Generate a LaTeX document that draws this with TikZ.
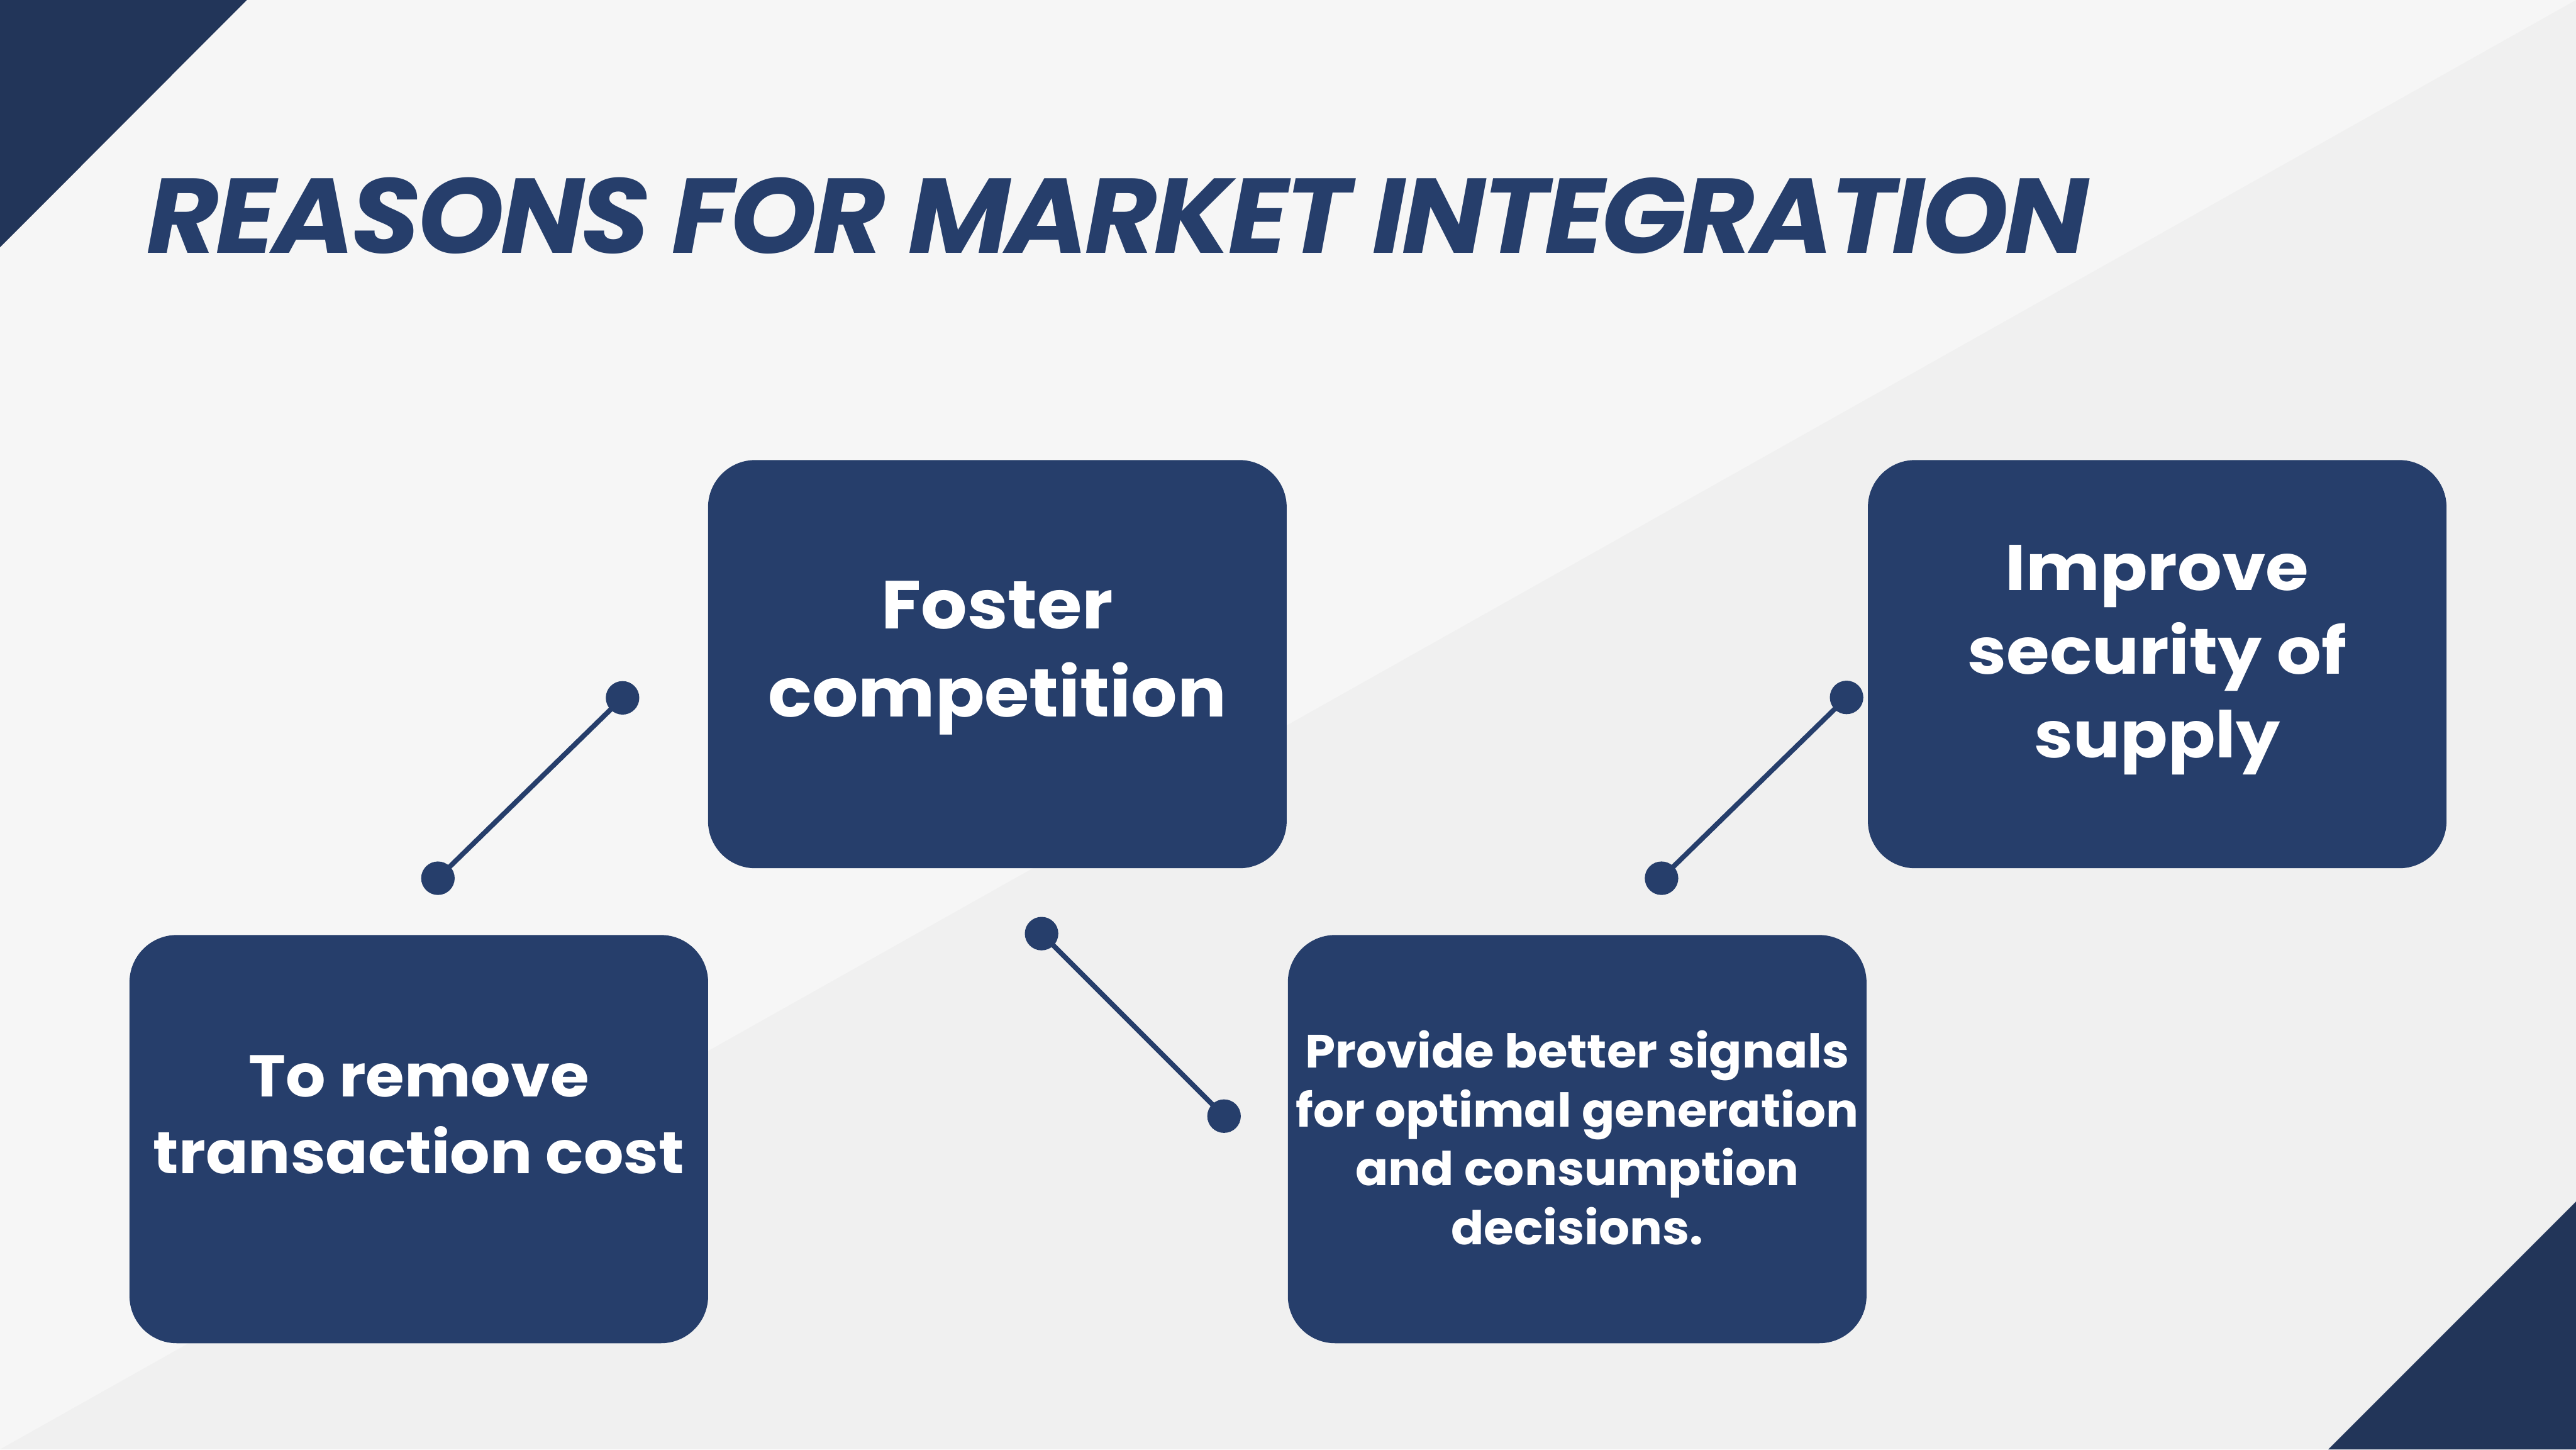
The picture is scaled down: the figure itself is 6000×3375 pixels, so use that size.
\documentclass[tikz,border=0pt]{standalone}
\usepackage{fontspec}
\usepackage{graphicx}
\setmainfont{Poppins}
\newfontfamily\titlefont{Poppins}[LetterSpace=-3]
\usetikzlibrary{calc}
\definecolor{navy}{HTML}{263E6B}
\definecolor{navydark}{HTML}{223559}
\definecolor{bglight}{HTML}{F6F6F6}
\definecolor{bgdark}{HTML}{F0F0F0}
\newcommand\cardlines[4]{\scalebox{#4}[1]{\fontsize{#1}{#2}\selectfont\begin{tabular}[t]{@{}c@{}}#3\end{tabular}}}
\begin{document}
\begin{tikzpicture}[x=0.01cm,y=-0.01cm,
  card/.style={fill=navy, rounded corners=1.1cm, minimum width=13.47cm, minimum height=9.5cm, inner sep=0pt, draw=none},
  cardtext/.style={text=white, inner sep=0pt, anchor=base, font=\bfseries},
  link/.style={draw=navy, line width=3.3pt},
  dot/.style={circle, fill=navy, minimum size=0.78cm, inner sep=0pt}]
\fill[bglight] (0,0) rectangle (6000,3375);
\fill[bgdark] (0,3375) -- (6000,0) -- (6000,3375) -- cycle;
\useasboundingbox (0,0) rectangle (6000,3375);
\fill[navydark] (0,0) -- (575,0) -- (0,576) -- cycle;
\fill[navydark] (6000,2798) -- (6000,3375) -- (5423,3375) -- cycle;

\node[anchor=base west, inner sep=0pt, text=navy] (title) at (342,589)
  {\resizebox*{45.2cm}{1.78cm}{\titlefont\bfseries\itshape REASONS FOR MARKET INTEGRATION}};

\node[card] (b1) at (975.5,2652.5) {};
\node[card] (b2) at (2323,1546.5) {};
\node[card] (b3) at (3673.5,2652.5) {};
\node[card] (b4) at (5024.5,1546.5) {};

\node[cardtext] (t1) at ($(b1.center)+(0,-98.5)$) {\cardlines{39pt}{50.9pt}{To remove\\transaction cost}{1.066}};
\node[cardtext] (t2) at ($(b2.center)+(0,-82.5)$) {\cardlines{45pt}{58.3pt}{Foster\\competition}{1.07}};
\node[cardtext] (t3) at ($(b3.center)+(0,-166.5)$) {\cardlines{30.9pt}{39.1pt}{Provide better signals\\for optimal generation\\and consumption\\decisions.}{1.04}};
\node[cardtext] (t4) at ($(b4.center)+(0,-172.5)$) {\cardlines{42.7pt}{55.5pt}{Improve\\security of\\supply}{1.085}};

\node[dot] (d1a) at (1020,2045) {};
\node[dot] (d1b) at (1450,1625) {};
\node[dot] (d2a) at (2426,2174) {};
\node[dot] (d2b) at (2851,2599) {};
\node[dot] (d3a) at (3870,2045) {};
\node[dot] (d3b) at (4301,1624) {};
\draw[link] (d1a.center) -- (d1b.center);
\draw[link] (d2a.center) -- (d2b.center);
\draw[link] (d3a.center) -- (d3b.center);
\end{tikzpicture}
\end{document}
